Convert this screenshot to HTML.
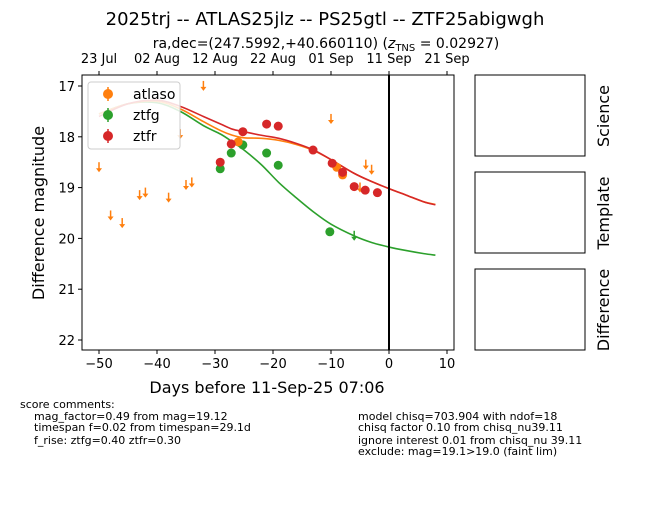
<!DOCTYPE html>
<html><head><meta charset="utf-8"><style>
body{margin:0;background:#fff;width:650px;height:500px;overflow:hidden;font-family:"Liberation Sans","DejaVu Sans",sans-serif}
svg text{font-family:"DejaVu Sans","Liberation Sans",sans-serif}
</style></head><body>
<svg id="chart" width="650" height="500">
<text x="325" y="25" font-size="18" text-anchor="middle">2025trj -- ATLAS25jlz -- PS25gtl -- ZTF25abigwgh</text>
<text x="326" y="48" font-size="14" text-anchor="middle">ra,dec=(247.5992,+40.660110) (<tspan font-style="italic">z</tspan><tspan font-size="10" dy="3">TNS</tspan><tspan dy="-3"> = 0.02927)</tspan></text>
<g id="plot"></g>
<rect x="475" y="75" width="110" height="81" fill="none" stroke="#000"/>
<rect x="475" y="172" width="110" height="81" fill="none" stroke="#000"/>
<rect x="475" y="269" width="110" height="81" fill="none" stroke="#000"/>
<text transform="translate(609,116) rotate(-90)" font-size="16" text-anchor="middle">Science</text>
<text transform="translate(609,213) rotate(-90)" font-size="16" text-anchor="middle">Template</text>
<text transform="translate(609,310) rotate(-90)" font-size="16" text-anchor="middle">Difference</text>
<g font-size="11">
<text x="20" y="408">score comments:</text>
<text x="34" y="420">mag_factor=0.49 from mag=19.12</text>
<text x="34" y="431">timespan f=0.02 from timespan=29.1d</text>
<text x="34" y="444">f_rise: ztfg=0.40 ztfr=0.30</text>
<text x="358" y="420">model chisq=703.904 with ndof=18</text>
<text x="358" y="431">chisq factor 0.10 from chisq_nu39.11</text>
<text x="358" y="444">ignore interest 0.01 from chisq_nu 39.11</text>
<text x="358" y="455">exclude: mag=19.1&gt;19.0 (faint lim)</text>
</g>
</svg>
<script>
const xTicks=[-50,-40,-30,-20,-10,0,10];
const yTicks=[17,18,19,20,21,22];
const dateLabels=["23 Jul","02 Aug","12 Aug","22 Aug","01 Sep","11 Sep","21 Sep"];
const dateDays=[-50,-40,-30,-20,-10,0,10];
const curveDays=[-50,-45,-40,-36,-32,-29,-27,-25,-22,-19,-16,-13,-10,-6,-3,0,3,6,8];
const orangeCurve=[17.55,17.35,17.3,17.45,17.7,17.88,17.97,18.02,18.03,18.07,18.15,18.27,18.45,18.72,18.88,19.02,19.15,19.28,19.33];
const redCurve=[17.6,17.35,17.28,17.4,17.6,17.75,17.85,17.9,17.97,18.03,18.13,18.26,18.45,18.72,18.88,19.02,19.15,19.28,19.34];
const greenCurve=[17.55,17.35,17.33,17.5,17.78,17.95,18.1,18.26,18.55,18.9,19.2,19.48,19.72,19.95,20.08,20.17,20.24,20.3,20.33];
const rDays=[-29.1,-27.2,-25.2,-21.1,-19.1,-13.1,-9.8,-8.0,-6.0,-4.1,-2.0];
const rMags=[18.5,18.14,17.9,17.75,17.79,18.26,18.52,18.7,18.98,19.05,19.1];
const gDays=[-29.1,-27.2,-25.2,-21.1,-19.1,-10.2];
const gMags=[18.63,18.32,18.16,18.32,18.56,19.87];
const gLimDays=[-6];
const gLimMags=[19.85];
const oDays=[-26,-9,-8];
const oMags=[18.1,18.6,18.75];
const oLimDays=[-50,-48,-46,-43,-42,-38,-35,-34,-32,-36,-10,-4,-3,-5];
const oLimMags=[18.5,19.45,19.6,19.05,19.0,19.1,18.85,18.8,16.9,17.85,17.55,18.45,18.55,18.9];

const X=d=>389+d*5.8, Y=m=>86+(m-17)*50.8;
const NS="http://www.w3.org/2000/svg";
const P=document.getElementById('plot');
function mk(t,a,parent){const e=document.createElementNS(NS,t);for(const k in a)e.setAttribute(k,a[k]);(parent||P).appendChild(e);return e;}
const C={o:"#ff7f0e",g:"#2ca02c",r:"#d62728"};
let e;
e=mk('rect',{x:82,y:75,width:372,height:275,fill:'none',stroke:'#000'});


xTicks.forEach(t=>{mk('line',{x1:X(t),x2:X(t),y1:350,y2:354,stroke:'#000'});
 e=mk('text',{x:X(t),y:368,'font-size':13,'text-anchor':'middle'});e.textContent=t<0?'\u2212'+(-t):t;
 
 });
yTicks.forEach(t=>{mk('line',{x1:78,x2:82,y1:Y(t),y2:Y(t),stroke:'#000'});
 e=mk('text',{x:75,y:Y(t)+5,'font-size':13,'text-anchor':'end'});e.textContent=t;
 
 });
dateDays.forEach((d,i)=>{mk('line',{x1:X(d),x2:X(d),y1:75,y2:71,stroke:'#000'});
 e=mk('text',{x:X(d),y:63,'font-size':13,'text-anchor':'middle'});e.textContent=dateLabels[i];
 
 });
e=mk('text',{x:267,y:393,'font-size':16,'text-anchor':'middle'});e.textContent='Days before 11-Sep-25 07:06';


e=mk('text',{transform:'translate(44,213) rotate(-90)','font-size':16,'text-anchor':'middle'});e.textContent='Difference magnitude';


const clip=mk('clipPath',{id:'cp'});mk('rect',{x:82,y:75,width:372,height:275},clip);
const G=mk('g',{'clip-path':'url(#cp)'});
function smooth(pts){let d='M'+pts[0][0]+','+pts[0][1];
 for(let i=0;i<pts.length-1;i++){const p0=pts[Math.max(0,i-1)],p1=pts[i],p2=pts[i+1],p3=pts[Math.min(pts.length-1,i+2)];
  const c1x=p1[0]+(p2[0]-p0[0])/6,c1y=p1[1]+(p2[1]-p0[1])/6,c2x=p2[0]-(p3[0]-p1[0])/6,c2y=p2[1]-(p3[1]-p1[1])/6;
  d+=`C${c1x},${c1y} ${c2x},${c2y} ${p2[0]},${p2[1]}`;}
 return d;}
function curve(v,c,n){const d=smooth(curveDays.map((x,i)=>[X(x),Y(v[i])]));
 const el=mk('path',{d:d,fill:'none',stroke:c,'stroke-width':1.6},G);
 
 }
curve(greenCurve,C.g,'ztfg-model-curve');curve(orangeCurve,C.o,'atlaso-model-curve');curve(redCurve,C.r,'ztfr-model-curve');
function lim(d,m,c,n){const g=mk('g',{},G);const x=X(d),y=Y(m);
 mk('line',{x1:x,x2:x,y1:y,y2:y+8,stroke:c,'stroke-width':1.5},g);
 mk('path',{d:`M${x-3},${y+6}L${x+3},${y+6}L${x},${y+10}Z`,fill:c},g);
 
 }
oLimDays.forEach((d,i)=>lim(d,oLimMags[i],C.o,'atlaso-upper-limit'));
gLimDays.forEach((d,i)=>lim(d,gLimMags[i],C.g,'ztfg-upper-limit'));
function pt(d,m,c,n){const el=mk('circle',{cx:X(d),cy:Y(m),r:4.5,fill:c},G);
 
 }
gDays.forEach((d,i)=>pt(d,gMags[i],C.g,'ztfg-point'));
oDays.forEach((d,i)=>pt(d,oMags[i],C.o,'atlaso-point'));
rDays.forEach((d,i)=>pt(d,rMags[i],C.r,'ztfr-point'));
e=mk('line',{x1:X(0),x2:X(0),y1:75,y2:350,stroke:'#000','stroke-width':2});


const L=mk('g',{});


mk('rect',{x:88,y:82,width:92,height:67,rx:3,fill:'#fff','fill-opacity':0.85,stroke:'#ccc'},L);
[['atlaso',C.o],['ztfg',C.g],['ztfr',C.r]].forEach((s,i)=>{const y=94+i*21;
 const g=mk('g',{},L);
 mk('line',{x1:108,x2:108,y1:y-7,y2:y+7,stroke:s[1],'stroke-width':1.5},g);
 mk('circle',{cx:108,cy:y,r:5,fill:s[1]},g);
 const t=mk('text',{x:133,y:y+5,'font-size':14},g);t.textContent=s[0];
 
 });
</script>
</body></html>
